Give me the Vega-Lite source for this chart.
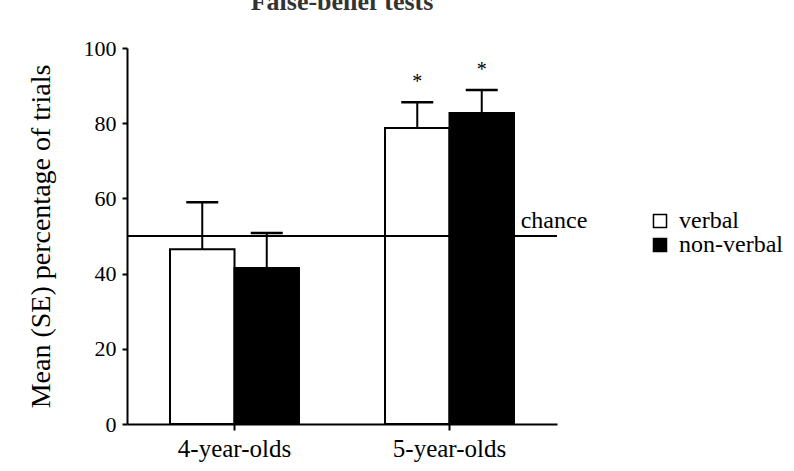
{
  "$schema": "https://vega.github.io/schema/vega-lite/v6.json",
  "width": 430,
  "height": 376,
  "autosize": {"type": "none"},
  "padding": {"left": 127, "top": 48, "right": 237, "bottom": 47},
  "background": "white",
  "title": {
    "text": "False-belief tests",
    "font": "Liberation Serif",
    "fontSize": 26,
    "fontWeight": "bold",
    "color": "#333",
    "offset": 22,
    "anchor": "middle"
  },
  "config": {
    "view": {"stroke": null},
    "font": "Liberation Serif",
    "axis": {
      "domainColor": "black",
      "domainWidth": 2,
      "tickColor": "black",
      "tickWidth": 2,
      "labelColor": "black",
      "titleColor": "black",
      "labelFont": "Liberation Serif",
      "titleFont": "Liberation Serif",
      "labelFontSize": 22,
      "grid": false
    },
    "legend": {"labelFont": "Liberation Serif"},
    "text": {"font": "Liberation Serif"}
  },
  "datasets": {
    "bars": [
      {"group": "4-year-olds", "cond": "verbal", "mean": 46.5, "upper": 59.0, "star": ""},
      {"group": "4-year-olds", "cond": "non-verbal", "mean": 41.5, "upper": 50.8, "star": ""},
      {"group": "5-year-olds", "cond": "verbal", "mean": 78.7, "upper": 85.6, "star": "*"},
      {"group": "5-year-olds", "cond": "non-verbal", "mean": 82.7, "upper": 88.8, "star": "*"}
    ],
    "chance": [
      {"group": "5-year-olds", "level": 50, "label": "chance"}
    ]
  },
  "layer": [
    {
      "data": {"name": "bars"},
      "mark": {"type": "bar", "stroke": "black", "strokeWidth": 2},
      "encoding": {
        "x": {
          "field": "group", "type": "nominal",
          "scale": {"paddingInner": 0, "paddingOuter": 0},
          "axis": {"title": null, "labelAngle": 0, "tickSize": 6, "labelPadding": 6, "labelFont": "Liberation Serif", "labelFontSize": 25}
        },
        "xOffset": {
          "field": "cond", "type": "nominal",
          "sort": ["verbal", "non-verbal"],
          "scale": {"paddingInner": 0, "paddingOuter": 0.667}
        },
        "y": {
          "field": "mean", "type": "quantitative",
          "scale": {"domain": [0, 100], "nice": false},
          "axis": {
            "title": "Mean (SE) percentage of trials",
            "titleFont": "Liberation Serif",
            "titleFontSize": 28,
            "titleFontWeight": "normal",
            "titlePadding": 28,
            "values": [0, 10, 20, 30, 40, 50, 60, 70, 80, 90, 100],
            "labelExpr": "datum.value % 20 === 0 ? datum.label : ''",
            "labelFont": "Liberation Serif",
            "labelFontSize": 22,
            "tickSize": {"condition": {"test": "datum.value % 20 !== 0", "value": 3}, "value": 5},
            "labelPadding": 6
          }
        },
        "fill": {
          "field": "cond", "type": "nominal",
          "sort": ["verbal", "non-verbal"],
          "scale": {"domain": ["verbal", "non-verbal"], "range": ["white", "black"]},
          "legend": {
            "title": null,
            "orient": "none",
            "legendX": 521,
            "legendY": 161,
            "symbolType": "square",
            "symbolSize": 170,
            "symbolStrokeColor": "black",
            "symbolStrokeWidth": 1.5,
            "labelFont": "Liberation Serif",
            "labelFontSize": 24,
            "labelColor": "black",
            "rowPadding": -6,
            "labelOffset": 7
          }
        }
      }
    },
    {
      "data": {"name": "bars"},
      "mark": {"type": "rule", "stroke": "black", "strokeWidth": 2},
      "encoding": {
        "x": {"field": "group", "type": "nominal"},
        "xOffset": {"field": "cond", "type": "nominal", "sort": ["verbal", "non-verbal"]},
        "y": {"field": "mean", "type": "quantitative"},
        "y2": {"field": "upper"}
      }
    },
    {
      "data": {"name": "bars"},
      "mark": {"type": "tick", "color": "black", "thickness": 2.5, "size": 32, "opacity": 1},
      "encoding": {
        "x": {"field": "group", "type": "nominal"},
        "xOffset": {"field": "cond", "type": "nominal", "sort": ["verbal", "non-verbal"]},
        "y": {"field": "upper", "type": "quantitative"}
      }
    },
    {
      "data": {"name": "bars"},
      "mark": {"type": "text", "fontSize": 20, "color": "black", "dy": -14, "baseline": "alphabetic", "font": "Liberation Serif"},
      "encoding": {
        "x": {"field": "group", "type": "nominal"},
        "xOffset": {"field": "cond", "type": "nominal", "sort": ["verbal", "non-verbal"]},
        "y": {"field": "upper", "type": "quantitative"},
        "text": {"field": "star"}
      }
    },
    {
      "data": {"name": "chance"},
      "mark": {"type": "rule", "stroke": "black", "strokeWidth": 2},
      "encoding": {
        "y": {"field": "level", "type": "quantitative"}
      }
    },
    {
      "data": {"name": "chance"},
      "mark": {"type": "text", "fontSize": 24, "color": "black", "align": "center", "baseline": "alphabetic", "dy": -8, "dx": -3, "font": "Liberation Serif"},
      "encoding": {
        "x": {"field": "group", "type": "nominal", "bandPosition": 1},
        "y": {"field": "level", "type": "quantitative"},
        "text": {"field": "label"}
      }
    }
  ]
}
